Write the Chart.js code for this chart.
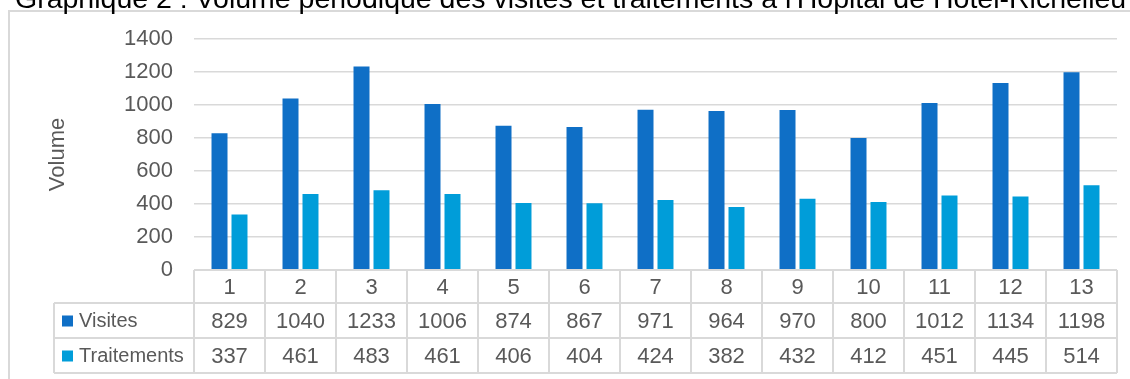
<!DOCTYPE html>
<html>
<head>
<meta charset="utf-8">
<script src="https://cdn.jsdelivr.net/npm/chart.js@4.4.0/dist/chart.umd.min.js"></script>
<style>
  html, body { margin: 0; padding: 0; background: #fff; overflow: hidden; }
  #wrap { position: relative; width: 1130px; height: 379px; overflow: hidden; }
  #titre {
    position: absolute; left: 15px; top: -16px;
    font: 28.5px 'Liberation Sans', Arial, sans-serif; line-height: 28px;
    color: #000; white-space: nowrap;
  }
  canvas { position: absolute; left: 0; top: 0; }
</style>
</head>
<body>
<div id="wrap">
  <canvas id="chart" width="1130" height="379"></canvas>
  <div id="titre">Graphique 2 : Volume périodique des visites et traitements à l'Hôpital de Hôtel-Richelieu</div>
</div>
<script>
// donnees
const periodes = ['1', '2', '3', '4', '5', '6', '7', '8', '9', '10', '11', '12', '13'];
const visites = [829, 1040, 1233, 1006, 874, 867, 971, 964, 970, 800, 1012, 1134, 1198];
const traitements = [337, 461, 483, 461, 406, 404, 424, 382, 432, 412, 451, 445, 514];
const nomsSeries = ['Visites', 'Traitements'];
const couleurs = ['#0F6FC6', '#009DD9'];

const gris = '#D9D9D9';
const texte = '#595959';
const police = "'Liberation Sans', Arial, sans-serif";

// cadre + tableau de donnees sous le graphique
const tableauPlugin = {
  id: 'tableau',
  beforeDraw(chart) {
    const ctx = chart.ctx;
    ctx.save();
    ctx.strokeStyle = gris;
    ctx.lineWidth = 2;
    ctx.beginPath();
    ctx.moveTo(9, 379);
    ctx.lineTo(9, 11);
    ctx.lineTo(1130, 11);
    ctx.stroke();
    ctx.restore();
  },
  afterDraw(chart) {
    const ctx = chart.ctx;
    const area = chart.chartArea;
    const x = chart.scales.x;
    const n = periodes.length;
    const w = (area.right - area.left) / n;
    const y0 = area.bottom;
    const y1 = y0 + 33;
    const y2 = y1 + 35;
    const y3 = y2 + 35;
    const gauche = 54;

    ctx.save();
    ctx.strokeStyle = gris;
    ctx.lineWidth = 2;
    ctx.beginPath();
    ctx.moveTo(area.left, y0); ctx.lineTo(area.right, y0);
    [y1, y2, y3].forEach(y => { ctx.moveTo(gauche, y); ctx.lineTo(area.right, y); });
    ctx.moveTo(gauche, y1); ctx.lineTo(gauche, y3);
    for (let i = 0; i <= n; i++) {
      const xx = area.left + i * w;
      ctx.moveTo(xx, y0); ctx.lineTo(xx, y3);
    }
    ctx.stroke();

    ctx.fillStyle = texte;
    ctx.textAlign = 'center';
    ctx.textBaseline = 'middle';
    ctx.font = '22px ' + police;
    periodes.forEach((p, i) => {
      const cx = x.getPixelForValue(i);
      ctx.fillText(p, cx, (y0 + y1) / 2 + 1);
      ctx.fillText(String(visites[i]), cx, (y1 + y2) / 2 + 1);
      ctx.fillText(String(traitements[i]), cx, (y2 + y3) / 2 + 1);
    });

    ctx.textAlign = 'left';
    ctx.font = '20px ' + police;
    [[y1, y2], [y2, y3]].forEach((r, k) => {
      const cy = (r[0] + r[1]) / 2;
      ctx.fillStyle = couleurs[k];
      ctx.fillRect(62, cy - 5, 11, 11);
      ctx.fillStyle = texte;
      ctx.fillText(nomsSeries[k], 79, cy + 1);
    });
    ctx.restore();
  }
};

new Chart(document.getElementById('chart'), {
  type: 'bar',
  data: {
    labels: periodes,
    datasets: [
      { label: nomsSeries[0], data: visites, backgroundColor: couleurs[0] },
      { label: nomsSeries[1], data: traitements, backgroundColor: couleurs[1] }
    ]
  },
  options: {
    responsive: false,
    animation: false,
    layout: { padding: { top: 39, right: 13, bottom: 109, left: 0 } },
    datasets: { bar: { categoryPercentage: 0.563, barPercentage: 0.8, borderWidth: 0 } },
    plugins: { legend: { display: false }, tooltip: { enabled: false } },
    scales: {
      x: { display: false },
      y: {
        min: 0, max: 1400,
        ticks: {
          stepSize: 200, padding: 21, color: texte, font: { size: 22, family: police },
          callback: v => String(v)
        },
        grid: { color: gris, lineWidth: 1.5, drawTicks: false },
        border: { display: false },
        title: { display: true, text: 'Volume', color: texte, font: { size: 22, family: police }, padding: { top: 45, bottom: 0 } },
        afterFit(scale) { scale.width = 194; }
      }
    }
  },
  plugins: [tableauPlugin]
});
</script>
</body>
</html>
